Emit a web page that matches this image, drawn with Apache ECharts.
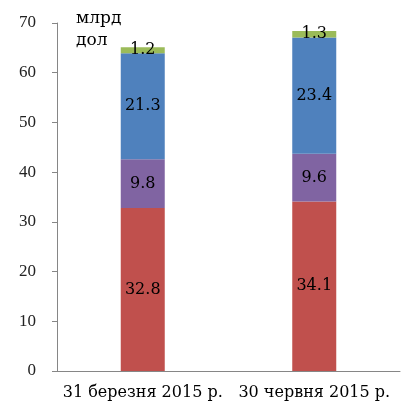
<!DOCTYPE html>
<html>
<head>
<meta charset="utf-8">
<script src="https://cdn.jsdelivr.net/npm/echarts@6/dist/echarts.min.js"></script>
<style>
  html, body { margin: 0; padding: 0; background: #fff; }
  #main { width: 406px; height: 408px; }
</style>
</head>
<body>
<div id="main"></div>
<script>
// дані
var categories = ['31 березня 2015 р.', '30 червня 2015 р.'];
var redValues = [32.8, 34.1];
var purpleValues = [9.8, 9.6];
var blueValues = [21.3, 23.4];
var greenValues = [1.2, 1.3];
var yTicks = [0, 10, 20, 30, 40, 50, 60, 70];

var myChart = echarts.init(document.getElementById('main'));
var serif = '"Liberation Serif", "Times New Roman", serif';
var wide = '"DejaVu Serif", serif';

function seriesOf(data, color) {
  return {
    type: 'bar',
    stack: 'total',
    barWidth: 44,
    data: data,
    itemStyle: { color: color },
    label: {
      show: true,
      position: 'inside',
      color: '#000',
      fontFamily: wide,
      fontSize: 16,
      formatter: function (p) { return p.value.toFixed(1); }
    }
  };
}

var option = {
  animation: false,
  grid: { left: 57, right: 6, top: 23, bottom: 37 },
  graphic: [{
    type: 'text',
    left: 76,
    top: 8,
    style: { text: 'млрд\nдол', font: '17px ' + wide, fill: '#000', lineHeight: 22, textAlign: 'left' }
  }],
  xAxis: {
    type: 'category',
    data: categories,
    axisLine: { lineStyle: { color: '#868686' } },
    axisTick: { show: false },
    axisLabel: { color: '#000', fontFamily: wide, fontSize: 16, margin: 14, interval: 0 }
  },
  yAxis: {
    type: 'value',
    min: yTicks[0],
    max: yTicks[yTicks.length - 1],
    interval: 10,
    splitLine: { show: false },
    axisLine: { show: true, lineStyle: { color: '#868686' } },
    axisTick: { show: true, length: 5, lineStyle: { color: '#868686' } },
    axisLabel: { color: '#222', fontFamily: serif, fontSize: 17, margin: 21 }
  },
  series: [
    seriesOf(redValues, '#C0504D'),
    seriesOf(purpleValues, '#8064A2'),
    seriesOf(blueValues, '#4F81BD'),
    seriesOf(greenValues, '#9BBB59')
  ]
};

myChart.setOption(option);
</script>
</body>
</html>
